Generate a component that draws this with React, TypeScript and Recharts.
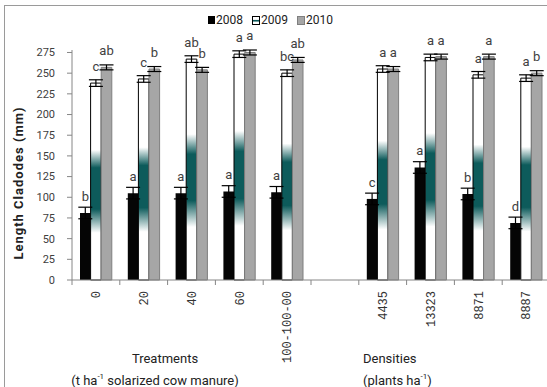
import React from 'react';
import { BarChart, Bar, XAxis, YAxis, ErrorBar, LabelList } from 'recharts';

const CATEGORIES = ['0', '20', '40', '60', '100-100-00', '', '4435', '13323', '8871', '8887'];
const Y2008 = [81, 105, 105, 107, 106, null, 98, 136, 104, 69];
const Y2009 = [238, 243, 267, 273, 250, null, 255, 269, 248, 244];
const Y2010 = [257, 255, 254, 275, 266, null, 255, 270, 270, 250];
const E2008 = [7, 7, 7, 7, 7, null, 7, 7, 7, 7];
const E2009 = [4, 4, 4, 4, 4, null, 4, 4, 4, 4];
const E2010 = [3, 3, 3, 3, 3, null, 3, 3, 3, 3];
const L2008 = ['b', 'a', 'a', 'a', 'a', '', 'c', 'a', 'b', 'd'];
const L2009 = ['c', 'c', 'ab', 'a', 'bc', '', 'a', 'a', 'a', 'a'];
const L2010 = ['ab', 'b', 'b', 'a', 'ab', '', 'a', 'a', 'a', 'b'];
const Y_TICKS = [0, 25, 50, 75, 100, 125, 150, 175, 200, 225, 250, 275];
const SERIES = ['2008', '2009', '2010'];

const data = CATEGORIES.map((cat, i) => ({
  cat,
  v2008: Y2008[i], v2009: Y2009[i], v2010: Y2010[i],
  e2008: E2008[i], e2009: E2009[i], e2010: E2010[i],
  l2008: L2008[i], l2009: L2009[i], l2010: L2010[i],
}));

const W = 550;
const H = 387;
const Y_AXIS_W = 72;
const HALF_BAND = (W - Y_AXIS_W) / CATEGORIES.length / 2;
const NARROW = "'Liberation Sans Narrow', 'Arial Narrow', Roboto, sans-serif";
const MONO = "'Liberation Mono', 'DejaVu Sans Mono', monospace";
const AXIS_GRAY = '#868686';

const XTick = (props: any) => {
  const { x, y, payload } = props;
  return (
    <g>
      <line x1={x - HALF_BAND} x2={x - HALF_BAND} y1={y} y2={y + 5} stroke={AXIS_GRAY} />
      <text
        transform={`translate(${x},${y + 11}) rotate(-90)`}
        textAnchor="end"
        dy="0.35em"
        fontFamily={MONO}
        fontSize={12}
        fill="#333"
      >
        {payload.value}
      </text>
    </g>
  );
};

const letter = (props: any) => {
  const { x, y, width, value } = props;
  if (!value) return null;
  return (
    <text x={x + width / 2} y={y - 12} textAnchor="middle" fontFamily={NARROW} fontSize={13} fill="#404040">
      {value}
    </text>
  );
};

const LegendIcon = ({ i }: { i: number }) => {
  if (i === 0) return <span style={{ display: 'inline-block', width: 7, height: 8, background: '#000' }} />;
  if (i === 1)
    return (
      <span style={{ display: 'inline-block', width: 6, height: 7, border: '1px solid #000', background: 'linear-gradient(#fff 35%, #0d5b5b 45%, #0d5b5b 60%, #fff 70%)' }} />
    );
  return <span style={{ display: 'inline-block', width: 6, height: 7, border: '1px solid #7f7f7f', background: '#a6a6a6' }} />;
};

export default function App() {
  return (
    <div style={{ position: 'absolute', left: 0, top: 0, width: 547, height: 387, overflow: 'hidden', background: '#fff' }}>
      <div style={{ position: 'absolute', left: 4, top: 5, width: 700, height: 500, border: '1px solid #9a9a9a' }} />
      <div style={{ position: 'absolute', left: 208, top: 13, display: 'flex', alignItems: 'center', fontFamily: NARROW, fontSize: 12, color: '#222' }}>
        {SERIES.map((s, i) => (
          <span key={s} style={{ display: 'flex', alignItems: 'center', marginRight: 9 }}>
            <LegendIcon i={i} />
            <span style={{ marginLeft: 1 }}>{s}</span>
          </span>
        ))}
      </div>
      <BarChart
        width={W}
        height={H}
        data={data}
        margin={{ top: 50, right: 0, left: 0, bottom: 0 }}
        barGap={0}
        style={{ position: 'absolute', left: 0, top: 0 }}
      >
        <defs>
          <linearGradient id="g2009" x1="0" y1="0" x2="0" y2="1">
            <stop offset="0" stopColor="#ffffff" />
            <stop offset="0.34" stopColor="#ffffff" />
            <stop offset="0.43" stopColor="#0d5b5b" />
            <stop offset="0.64" stopColor="#0d5b5b" />
            <stop offset="0.76" stopColor="#ffffff" />
            <stop offset="1" stopColor="#ffffff" />
          </linearGradient>
        </defs>
        <XAxis
          dataKey="cat"
          height={107}
          tickSize={0}
          tickMargin={0}
          tickLine={false}
          axisLine={{ stroke: AXIS_GRAY }}
          tick={<XTick />}
          interval={0}
        />
        <YAxis
          width={Y_AXIS_W}
          domain={[0, 275]}
          ticks={Y_TICKS}
          interval={0}
          tickSize={5}
          tickMargin={12}
          axisLine={{ stroke: AXIS_GRAY }}
          tickLine={{ stroke: AXIS_GRAY }}
          tick={{ fontFamily: NARROW, fontSize: 11, fill: '#404040' }}
        />
        <Bar dataKey="v2008" fill="#050505" barSize={10.6} isAnimationActive={false}>
          <ErrorBar dataKey="e2008" width={7} stroke="#000" strokeWidth={1.2} direction="y" />
          <LabelList dataKey="l2008" content={letter} />
        </Bar>
        <Bar dataKey="v2009" fill="url(#g2009)" stroke="#000" strokeWidth={1} barSize={10.6} isAnimationActive={false}>
          <ErrorBar dataKey="e2009" width={7} stroke="#000" strokeWidth={1.2} direction="y" />
          <LabelList dataKey="l2009" content={letter} />
        </Bar>
        <Bar dataKey="v2010" fill="#a6a6a6" stroke="#7f7f7f" strokeWidth={1} barSize={10.6} isAnimationActive={false}>
          <ErrorBar dataKey="e2010" width={7} stroke="#000" strokeWidth={1.2} direction="y" />
          <LabelList dataKey="l2010" content={letter} />
        </Bar>
      </BarChart>
      <div
        style={{
          position: 'absolute', left: 18, top: 183, transform: 'translate(-50%, -50%) rotate(-90deg)',
          whiteSpace: 'nowrap', fontFamily: NARROW, fontWeight: 'bold', fontSize: 13, letterSpacing: 1, color: '#222',
        }}
      >
        Length Cladodes (mm)
      </div>
      <div style={{ position: 'absolute', left: 165, top: 358, transform: 'translate(-50%, -50%)', whiteSpace: 'nowrap', fontFamily: NARROW, fontSize: 13, color: '#222' }}>
        Treatments
      </div>
      <div style={{ position: 'absolute', left: 155, top: 380, transform: 'translate(-50%, -50%)', whiteSpace: 'nowrap', fontFamily: NARROW, fontSize: 13, color: '#222' }}>
        (t ha<sup style={{ fontSize: 8 }}>-1</sup> solarized cow manure)
      </div>
      <div style={{ position: 'absolute', left: 363, top: 358, transform: 'translate(0, -50%)', whiteSpace: 'nowrap', fontFamily: NARROW, fontSize: 13, color: '#222' }}>
        Densities
      </div>
      <div style={{ position: 'absolute', left: 363, top: 380, transform: 'translate(0, -50%)', whiteSpace: 'nowrap', fontFamily: NARROW, fontSize: 13, color: '#222' }}>
        (plants ha<sup style={{ fontSize: 8 }}>-1</sup>)
      </div>
    </div>
  );
}
